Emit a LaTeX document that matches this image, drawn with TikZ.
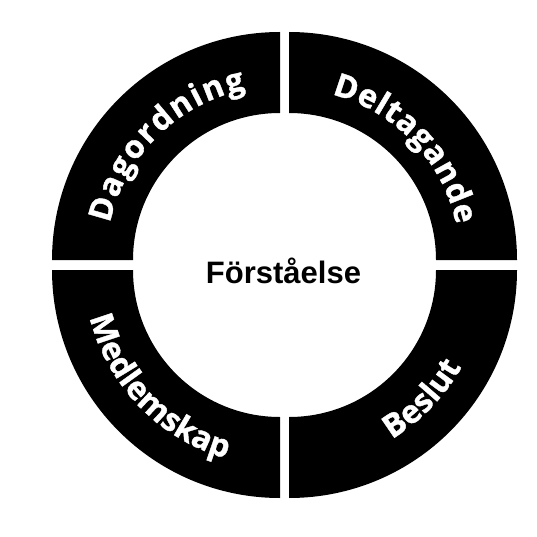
\documentclass[tikz,border=0pt]{standalone}
\usepackage{fontspec}
\setmainfont{Liberation Sans}
\newfontfamily\ringfont{Open Sans}[BoldFeatures={FakeBold=1.2}]
\usetikzlibrary{decorations.text}
\newcommand{\ringfmt}{\ringfont\bfseries\fontsize{32}{32}\selectfont}
\tikzstyle{quarter}=[fill=black]
\tikzstyle{ringlabel}=[decorate, decoration={text along path, text align=fit to path, text color=white}]

\begin{document}
\begin{tikzpicture}[x=1pt, y=1pt]
          \useasboundingbox (0, 0) rectangle (537, 536);
          \foreach \cx/\cy/\a in {280/276/90, 289/276/0, 280/266/180, 289/266/270}
            \fill[quarter]
              ([shift={(\cx, \cy)}]\a:228)
              arc[start angle=\a, delta angle=90, radius=228]
              -- ++(\a+90:-81)
              arc[start angle=\a+90, delta angle=-90, radius=147]
              -- cycle;
          \path[ringlabel, decoration={text={|\ringfmt|Dagordning}}]
            ([shift={(280, 276)}]167.8:174)
            arc[start angle=167.8, end angle=101.4, radius=174];
          \path[ringlabel, decoration={text={|\ringfmt|Deltagande}}]
            ([shift={(289, 276)}]75.5:171)
            arc[start angle=75.5, end angle=11.9, radius=171];
          \path[ringlabel, decoration={text={|\ringfmt|Beslut}}]
            ([shift={(289, 266)}]-58.7:198)
            arc[start angle=-58.7, end angle=-29.3, radius=198];
          \path[ringlabel, decoration={text={|\ringfmt|Medlemskap}}]
            ([shift={(280, 266)}]194:196)
            arc[start angle=194, end angle=254, radius=196];
          \node[font=\bfseries\fontsize{31}{31}\selectfont, anchor=base]
            (understanding) at (283.5, 253) {Förståelse};
        \end{tikzpicture}
\end{document}
